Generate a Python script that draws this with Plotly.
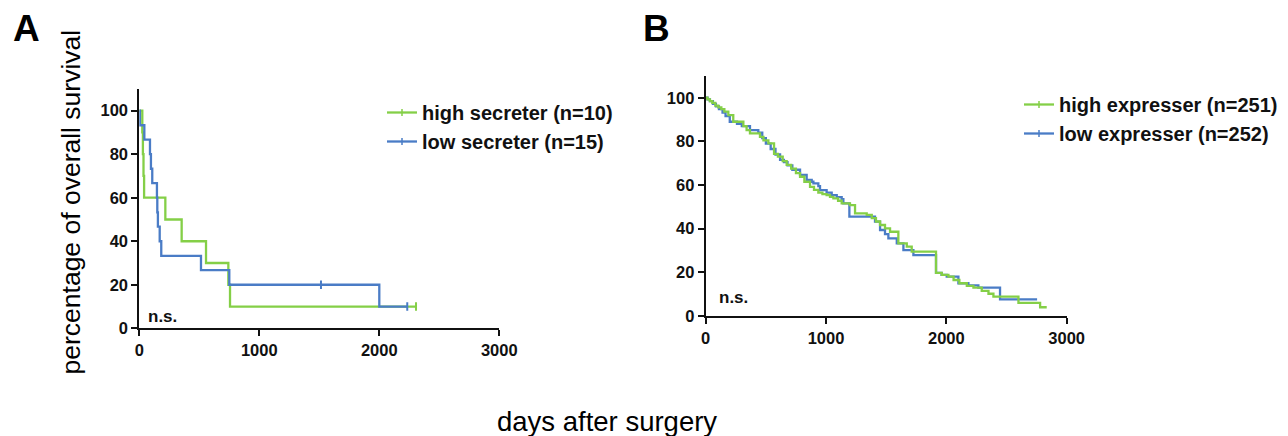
import plotly.graph_objects as go

# ---------------- Panel A data ----------------
a_high_days = [0, 25, 30, 35, 40, 217, 353, 556, 742, 756, 2306]
a_high_pct = [100, 90, 80, 70, 60, 50, 40, 30, 20, 10, 10]
a_high_cens_days = [2306]
a_high_cens_pct = [10]

a_low_days = [0, 5, 42, 89, 97, 108, 147, 150, 155, 170, 183, 514, 750, 2000, 2233]
a_low_pct = [100, 93.3, 86.7, 80, 73.3, 66.7, 60, 53.3, 46.7, 40, 33.3, 26.7, 20, 10, 10]
a_low_cens_days = [1514, 2233]
a_low_cens_pct = [20, 10]

a_labels = ["high secreter (n=10)", "low secreter (n=15)"]

# ---------------- Panel B data ----------------
b_high_days = [0, 15, 35, 55, 80, 105, 130, 155, 188, 229, 313, 340, 368, 451, 480,
               521, 568, 600, 640, 673, 710, 750, 784, 820, 867, 900, 936, 970, 1005,
               1033, 1061, 1100, 1130, 1199, 1241, 1338, 1380, 1415, 1449, 1490, 1532,
               1601, 1671, 1712, 1914, 1962, 2017, 2060, 2108, 2170, 2225, 2294, 2350,
               2391, 2599, 2779, 2834]
b_high_pct = [100, 99.2, 98.4, 97.6, 96.4, 95.6, 94.8, 93.6, 92.0, 89.0, 87.0, 85.2,
              83.7, 82.1, 80.5, 79.1, 74.3, 73.0, 71.0, 69.2, 67.5, 65.5, 63.8, 61.5,
              59.2, 57.8, 56.5, 55.8, 55.4, 54.6, 53.9, 52.8, 51.6, 50.8, 47.0, 46.3,
              44.8, 43.3, 41.7, 40.1, 38.6, 33.3, 31.8, 29.5, 19.8, 18.8, 18.0, 16.5,
              15.0, 13.8, 13.0, 11.5, 10.2, 8.9, 6.0, 4.0, 4.0]

b_low_days = [0, 15, 35, 60, 85, 110, 140, 165, 200, 260, 300, 368, 437, 470, 500, 540,
              580, 618, 650, 680, 720, 784, 839, 881, 895, 936, 950, 1005, 1047, 1089,
              1130, 1144, 1194, 1407, 1449, 1490, 1518, 1588, 1643, 1726, 1914, 1960,
              2003, 2100, 2183, 2266, 2446, 2754]
b_low_pct = [100, 99.2, 98.4, 97.2, 96.0, 94.8, 93.2, 91.6, 89.0, 88.0, 87.0, 85.2,
             84.0, 81.5, 79.0, 76.5, 74.0, 71.5, 70.5, 69.0, 67.0, 64.6, 62.3, 61.5,
             60.8, 59.5, 57.7, 56.5, 55.4, 54.5, 53.5, 51.6, 45.5, 43.2, 39.4, 37.5,
             35.6, 33.3, 30.2, 27.9, 19.8, 18.8, 18.0, 15.0, 14.0, 13.0, 7.6, 7.6]

b_labels = ["high expresser (n=251)", "low expresser (n=252)"]

x_ticks = [0, 1000, 2000, 3000]
y_ticks = [0, 20, 40, 60, 80, 100]

GREEN = "#84cf47"
BLUE = "#4a7cc6"
FONT = "Liberation Sans, Arial, sans-serif"
OFF = 8            # page body margin of the HTML page
W, H = 1288 - OFF, 436 - OFF

fig = go.Figure()

def km(x, y, color, xa, ya):
    fig.add_trace(go.Scatter(x=x, y=y, mode="lines", line=dict(color=color, width=2.3, shape="hv"),
                             xaxis=xa, yaxis=ya, showlegend=False, hoverinfo="skip"))

def cens(x, y, color, xa, ya):
    fig.add_trace(go.Scatter(x=x, y=y, mode="markers",
                             marker=dict(symbol="line-ns-open", size=6, color=color,
                                         line=dict(color=color, width=2)),
                             xaxis=xa, yaxis=ya, showlegend=False, hoverinfo="skip"))

def legend_item(name, color, leg):
    fig.add_trace(go.Scatter(x=[None], y=[None], mode="lines+markers", name=name,
                             line=dict(color=color, width=2.3),
                             marker=dict(symbol="line-ns-open", size=5, color=color,
                                         line=dict(color=color, width=1.5)),
                             legend=leg, showlegend=True))

# Panel A
km(a_high_days, a_high_pct, GREEN, "x", "y")
km(a_low_days, a_low_pct, BLUE, "x", "y")
cens(a_high_cens_days, a_high_cens_pct, GREEN, "x", "y")
cens(a_low_cens_days, a_low_cens_pct, BLUE, "x", "y")
legend_item(a_labels[0], GREEN, "legend")
legend_item(a_labels[1], BLUE, "legend")

# Panel B
km(b_low_days, b_low_pct, BLUE, "x2", "y2")
km(b_high_days, b_high_pct, GREEN, "x2", "y2")
legend_item(b_labels[0], GREEN, "legend2")
legend_item(b_labels[1], BLUE, "legend2")

tickfont = dict(family=FONT, size=16.5, color="#111", weight="bold")
axis_common = dict(showline=True, linecolor="#111", linewidth=2, ticks="outside",
                   ticklen=6, tickwidth=2, tickcolor="#111", showgrid=False,
                   zeroline=False, tickfont=tickfont, fixedrange=True, automargin=False)

def px_x(p):
    return (p - OFF) / W

def px_y(p):
    return 1 - (p - OFF) / H

legend_font = dict(family=FONT, size=20, color="#111", weight="bold")

fig.update_layout(
    width=W, height=H, autosize=False,
    margin=dict(l=0, r=0, t=0, b=0, pad=0, autoexpand=False),
    paper_bgcolor="white", plot_bgcolor="white",
    xaxis=dict(domain=[px_x(139.3), px_x(499.3)], range=[0, 3000], tickvals=x_ticks,
               anchor="y", **axis_common),
    yaxis=dict(domain=[px_y(328.3), px_y(88.9)], range=[0, 110], tickvals=y_ticks,
               anchor="x", **axis_common),
    xaxis2=dict(domain=[px_x(705.7), px_x(1066.7)], range=[0, 3000], tickvals=x_ticks,
                anchor="y2", **axis_common),
    yaxis2=dict(domain=[px_y(316), px_y(75.9)], range=[0, 110], tickvals=y_ticks,
                anchor="x2", **axis_common),
    legend=dict(x=px_x(382), y=px_y(93), xanchor="left", yanchor="top",
                bgcolor="rgba(0,0,0,0)", borderwidth=0, itemwidth=30, font=legend_font),
    legend2=dict(x=px_x(1019), y=px_y(85), xanchor="left", yanchor="top",
                 bgcolor="rgba(0,0,0,0)", borderwidth=0, itemwidth=30, font=legend_font),
    annotations=[
        dict(text="A", x=px_x(11), y=px_y(28), xref="paper", yref="paper",
             xanchor="left", yanchor="middle", showarrow=False,
             font=dict(family=FONT, size=37, color="black", weight="bold")),
        dict(text="B", x=px_x(641), y=px_y(28), xref="paper", yref="paper",
             xanchor="left", yanchor="middle", showarrow=False,
             font=dict(family=FONT, size=37, color="black", weight="bold")),
        dict(text="percentage of overall survival", x=px_x(70), y=px_y(202.5),
             xref="paper", yref="paper", textangle=-90, showarrow=False,
             xanchor="center", yanchor="middle",
             font=dict(family=FONT, size=26.5, color="black")),
        dict(text="days after surgery", x=px_x(606.5), y=px_y(421),
             xref="paper", yref="paper", showarrow=False,
             xanchor="center", yanchor="middle",
             font=dict(family=FONT, size=27.5, color="black")),
        dict(text="n.s.", x=56, y=5.2, xref="x", yref="y", showarrow=False,
             xanchor="left", yanchor="middle",
             font=dict(family=FONT, size=17, color="#111", weight="bold")),
        dict(text="n.s.", x=94, y=8.7, xref="x2", yref="y2", showarrow=False,
             xanchor="left", yanchor="middle",
             font=dict(family=FONT, size=17, color="#111", weight="bold")),
    ],
)

fig.write_html("out.html")
